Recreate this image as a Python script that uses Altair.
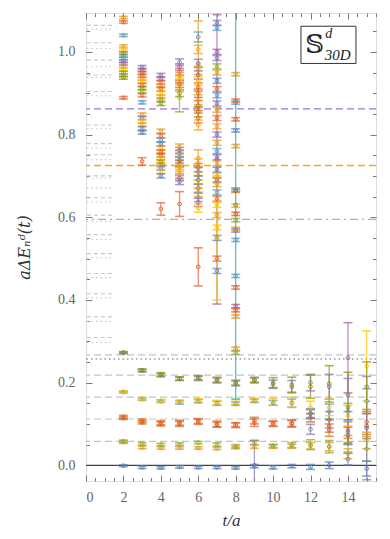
import altair as alt
import pandas as pd

PALETTE = ["#5E81B5", "#E19C24", "#8FB032", "#EB6235", "#8778B3", "#C56E1A",
           "#5D9EC7", "#FFBF00", "#A5609D", "#929600", "#E95536", "#6685D9",
           "#F89F13", "#BC5B80", "#47B66D", "#1FAA8C"]

# ---------------- low-lying levels (t = 2 .. 15) ----------------
T_LOW = [2, 3, 4, 5, 6, 7, 8, 9, 10, 11, 12, 13, 14, 15]
BLUE_V = [-0.001, -0.005, -0.006, -0.004, -0.005, -0.005, -0.006, -0.002, -0.005, -0.002, -0.004, 0.000, 0.015, -0.008]
BLUE_E = [0.002, 0.003, 0.003, 0.003, 0.003, 0.003, 0.003, 0.004, 0.004, 0.004, 0.006, 0.008, 0.014, 0.018]
GREEN_V = [0.058, 0.052, 0.050, 0.051, 0.055, 0.050, 0.046, 0.055, 0.047, 0.049, 0.050, 0.045, 0.052, 0.040]
GREEN_E = [0.003, 0.003, 0.003, 0.003, 0.003, 0.004, 0.004, 0.005, 0.004, 0.006, 0.012, 0.015, 0.020, 0.030]
ORANGE_V = [0.056, 0.043, 0.042, 0.042, 0.042, 0.041, 0.043, 0.045, 0.045, 0.046, 0.047, 0.045, 0.028, 0.060]
ORANGE_E = [0.003, 0.003, 0.003, 0.003, 0.003, 0.003, 0.003, 0.004, 0.004, 0.005, 0.008, 0.010, 0.012, 0.020]
RED_V = [0.117, 0.108, 0.103, 0.103, 0.105, 0.100, 0.097, 0.103, 0.100, 0.100, 0.125, 0.085, 0.085, 0.105]
RED_E = [0.004, 0.004, 0.005, 0.006, 0.006, 0.007, 0.006, 0.009, 0.006, 0.008, 0.010, 0.015, 0.020, 0.030]
BROWN_V = [0.114, 0.104, 0.100, 0.100, 0.107, 0.098, 0.098, 0.108, 0.101, 0.102, 0.115, 0.095, 0.072, 0.095]
BROWN_E = [0.003, 0.004, 0.005, 0.006, 0.006, 0.006, 0.005, 0.008, 0.006, 0.008, 0.010, 0.015, 0.020, 0.030]
YELLOW_V = [0.178, 0.161, 0.156, 0.154, 0.157, 0.152, 0.151, 0.158, 0.154, 0.153, 0.140, 0.140, 0.120, 0.240]
YELLOW_E = [0.002, 0.003, 0.003, 0.004, 0.004, 0.005, 0.004, 0.004, 0.008, 0.012, 0.015, 0.020, 0.025, 0.085]
CYAN_V = [0.177, 0.160, 0.155, 0.152, 0.155, 0.150, 0.149, 0.156, 0.151, 0.150, 0.125, 0.130, 0.130, 0.155]
CYAN_E = [0.002, 0.003, 0.003, 0.004, 0.004, 0.005, 0.004, 0.004, 0.006, 0.010, 0.012, 0.018, 0.020, 0.030]
OLIVE_V = [0.273, 0.230, 0.220, 0.210, 0.212, 0.207, 0.200, 0.205, 0.200, 0.195, 0.190, 0.197, 0.140, 0.190]
OLIVE_E = [0.002, 0.003, 0.004, 0.004, 0.005, 0.006, 0.006, 0.006, 0.012, 0.018, 0.028, 0.044, 0.085, 0.060]
PURPLE_V = [0.272, 0.229, 0.218, 0.209, 0.210, 0.205, 0.198, 0.207, 0.196, 0.190, 0.200, 0.190, 0.170, 0.090]
PURPLE_E = [0.002, 0.003, 0.004, 0.004, 0.005, 0.006, 0.006, 0.006, 0.010, 0.015, 0.020, 0.030, 0.040, 0.125]

EXTRA_T = [9, 12, 12, 13, 14, 14]
EXTRA_V = [0.000, 0.087, 0.125, 0.110, 0.260, 0.080]
EXTRA_E = [0.060, 0.012, 0.010, 0.020, 0.085, 0.030]
EXTRA_C = [4, 4, 11, 4, 8, 11]

# ---------------- excited levels, per time slice ----------------
U2_V = [1.083, 1.072, 1.040, 1.014, 1.004, 0.997, 0.990, 0.984, 0.978, 0.971, 0.964, 0.957, 0.950, 0.944, 0.937, 0.889]
U2_C = [1, 3, 6, 12, 7, 5, 14, 6, 4, 8, 1, 7, 9, 2, 9, 3]
U2_E = [0.003] * 16

U3_V = [0.963, 0.956, 0.949, 0.942, 0.935, 0.928, 0.920, 0.912, 0.905, 0.895, 0.878,
        0.848, 0.840, 0.832, 0.824, 0.815, 0.805, 0.735]
U3_C = [4, 8, 5, 3, 1, 7, 10, 9, 2, 3, 6, 1, 4, 7, 12, 4, 0, 3]
U3_E = [0.004] * 17 + [0.009]

U4_V = [0.943, 0.935, 0.926, 0.918, 0.910, 0.900, 0.891, 0.884, 0.875,
        0.808, 0.797, 0.787, 0.777, 0.767, 0.758, 0.750, 0.742, 0.734, 0.727, 0.719, 0.711, 0.700, 0.620]
U4_C = [4, 8, 3, 1, 10, 7, 12, 2, 9, 1, 3, 6, 0, 12, 10, 5, 7, 9, 1, 11, 7, 0, 3]
U4_E = [0.005] * 22 + [0.015]

U5_V = [0.975, 0.963, 0.952, 0.942, 0.932, 0.922, 0.912, 0.900, 0.890,
        0.770, 0.762, 0.754, 0.746, 0.738, 0.730, 0.722, 0.713, 0.704, 0.695, 0.686, 0.632]
U5_C = [4, 8, 3, 1, 7, 10, 12, 9, 2, 1, 3, 6, 12, 0, 5, 7, 1, 7, 8, 4, 3]
U5_E = [0.008] * 8 + [0.035] + [0.007] * 11 + [0.030]

U6_V = [1.036, 0.970, 1.006, 0.972, 0.955, 0.944, 0.930, 0.915, 0.900, 0.884, 0.870, 0.855, 0.840, 0.823,
        0.743, 0.731, 0.720, 0.710, 0.700, 0.690, 0.680, 0.670, 0.660, 0.648, 0.636, 0.622, 0.480]
U6_C = [6, 1, 12, 4, 1, 8, 7, 3, 5, 1, 10, 9, 3, 12, 1, 12, 3, 6, 1, 0, 7, 4, 12, 6, 8, 7, 3]
U6_E = [0.012, 0.105] + [0.010] * 7 + [0.012] * 5 + [0.020] + [0.010] * 11 + [0.046]

U7_V = [0.740, 1.070, 1.058, 1.000, 0.985, 0.965, 0.950, 0.930, 0.910, 0.895, 0.875, 0.860, 0.840, 0.820,
        0.800, 0.780, 0.760, 0.745, 0.730, 0.715, 0.700, 0.690, 0.680, 0.660, 0.645, 0.630, 0.605,
        0.575, 0.550, 0.500, 0.470, 0.550]
U7_C = [8, 4, 6, 8, 4, 2, 1, 0, 3, 6, 4, 1, 3, 12, 4, 1, 6, 4, 12, 0, 7, 8, 1, 6, 3, 7, 1, 7, 0, 3, 11, 7]
U7_E = [0.350] + [0.006] * 30 + [0.150]

U8_V = [0.630, 0.946, 0.882, 0.877, 0.837, 0.810, 0.772, 0.667, 0.664, 0.628, 0.608, 0.593, 0.572, 0.568,
        0.545, 0.458, 0.430, 0.385, 0.375, 0.360, 0.282, 0.272]
U8_C = [15, 1, 3, 6, 3, 11, 1, 6, 5, 12, 10, 2, 1, 4, 6, 6, 3, 8, 10, 1, 1, 2]
U8_E = [0.470] + [0.004] * 21

# ---------------- reference levels ----------------
REF_GRAY_DASHED = [0.058, 0.112, 0.165, 0.218, 0.267]
REF_DARK_DOTTED = [0.257]
REF_DASHDOT = [0.595]
REF_ORANGE = [0.725]
REF_PURPLE = [0.862]
REF_ZERO = [0.0]

SEG_DASHED = [1.064, 1.022, 0.980, 0.944, 0.904, 0.823, 0.778, 0.751, 0.700, 0.647, 0.605,
              0.558, 0.512, 0.464, 0.415, 0.359, 0.309]
SEG_DOTTED = [1.055, 1.008, 0.964, 0.938, 0.894, 0.814, 0.767, 0.739, 0.695, 0.671, 0.637,
              0.590, 0.546, 0.502, 0.454, 0.405, 0.348, 0.297]

X_MAJOR = [0, 2, 4, 6, 8, 10, 12, 14]
X_MINOR = [0.5 * i for i in range(0, 32)]
Y_MAJOR = [0.0, 0.2, 0.4, 0.6, 0.8, 1.0]
Y_MINOR = [0.0, 0.05, 0.1, 0.15, 0.2, 0.25, 0.3, 0.35, 0.4, 0.45, 0.5, 0.55, 0.6, 0.65,
           0.7, 0.75, 0.8, 0.85, 0.9, 0.95, 1.0, 1.05]

# ---------------- build tables ----------------
rows = []


def add(t, v, e, c):
    rows.append({"t": t, "v": v, "lo": v - e, "hi": v + e, "color": PALETTE[c]})


for vals, errs, c in [(BLUE_V, BLUE_E, 0), (ORANGE_V, ORANGE_E, 1), (GREEN_V, GREEN_E, 2),
                      (BROWN_V, BROWN_E, 5), (RED_V, RED_E, 3), (CYAN_V, CYAN_E, 6),
                      (YELLOW_V, YELLOW_E, 7), (PURPLE_V, PURPLE_E, 4), (OLIVE_V, OLIVE_E, 9)]:
    for t, v, e in zip(T_LOW, vals, errs):
        add(t, v, e, c)
for t, v, e, c in zip(EXTRA_T, EXTRA_V, EXTRA_E, EXTRA_C):
    add(t, v, e, c)
for t, V, E, C in [(2, U2_V, U2_E, U2_C), (3, U3_V, U3_E, U3_C), (4, U4_V, U4_E, U4_C),
                   (5, U5_V, U5_E, U5_C), (6, U6_V, U6_E, U6_C), (7, U7_V, U7_E, U7_C),
                   (8, U8_V, U8_E, U8_C)]:
    for v, e, c in zip(V, E, C):
        add(t, v, e, c)
df = pd.DataFrame(rows)

SEG_X0, SEG_X1 = 0.05, 1.45
seg_dash = pd.DataFrame({"v": SEG_DASHED, "x0": SEG_X0, "x1": SEG_X1})
seg_dot = pd.DataFrame({"v": SEG_DOTTED, "x0": SEG_X0, "x1": SEG_X1})

W, H = 290, 468
xs = alt.Scale(domain=[0, 15.5], nice=False, zero=False)
ys = alt.Scale(domain=[-0.038, 1.094], nice=False, zero=False)
TICKC = "#7a7a7a"
SERIF = "Liberation Serif"


def tick_axis(orient, offset, values, size):
    return alt.Axis(orient=orient, offset=offset, values=values, tickSize=size, labels=False, ticks=True,
                    domain=False, grid=False, title=None, tickColor=TICKC, tickWidth=1, tickOpacity=1)


main_y = alt.Axis(orient="left", values=Y_MAJOR, format=".1f", ticks=False, domain=False, grid=False,
                  labelFont=SERIF, labelFontSize=14, labelColor="#666666", labelPadding=11,
                  title="aΔEₙᵈ(t)", titleFont="DejaVu Serif", titleFontStyle="italic",
                  titleFontWeight="normal", titleFontSize=16, titleColor="#333333",
                  titleAngle=270, titleX=-62, titleY=H / 2, titleAlign="center", titleBaseline="middle")
main_x = alt.Axis(orient="bottom", values=X_MAJOR, format="d", ticks=False, domain=False, grid=False,
                  labelFont=SERIF, labelFontSize=14, labelColor="#666666", labelPadding=9,
                  title="t/a", titleFont=SERIF, titleFontStyle="italic", titleFontWeight="normal",
                  titleFontSize=17, titleColor="#333333", titleY=39, titleBaseline="middle")


def ref_layer(vals, color, dash, width=1.2):
    d = pd.DataFrame({"v": vals})
    kw = {"color": color, "strokeWidth": width}
    if dash:
        kw["strokeDash"] = dash
    return alt.Chart(d).mark_rule(**kw).encode(y=alt.Y("v:Q", scale=ys, axis=None))


refs = [
    ref_layer(REF_GRAY_DASHED, "#c4c4c4", [7, 4]),
    ref_layer(REF_DARK_DOTTED, "#666666", [1.5, 3], 1.1),
    ref_layer(REF_DASHDOT, "#b0b0b0", [8, 4, 2, 4]),
    ref_layer(REF_ORANGE, "#F5A623", [7, 4], 1.4),
    ref_layer(REF_PURPLE, "#9B74E6", [7, 4], 1.3),
]
ref_main = alt.Chart(pd.DataFrame({"v": REF_ZERO})).mark_rule(color="#444444", strokeWidth=1.3).encode(
    y=alt.Y("v:Q", scale=ys, axis=main_y))

seg1 = alt.Chart(seg_dash).mark_rule(color="#c8c8c8", strokeDash=[4, 3], strokeWidth=1.1).encode(
    x=alt.X("x0:Q", scale=xs, axis=tick_axis("bottom", -H, X_MAJOR, 6)),
    x2="x1:Q", y=alt.Y("v:Q", scale=ys, axis=tick_axis("right", -W, Y_MAJOR, 6)))
seg2 = alt.Chart(seg_dot).mark_rule(color="#c8c8c8", strokeDash=[1.5, 3], strokeWidth=1.1).encode(
    x=alt.X("x0:Q", scale=xs, axis=None), x2="x1:Q", y=alt.Y("v:Q", scale=ys, axis=None))

base = alt.Chart(df)
col = alt.Color("color:N", scale=None)
err = base.mark_rule(strokeWidth=1.3, opacity=0.72, clip=True).encode(
    x=alt.X("t:Q", scale=xs, axis=main_x),
    y=alt.Y("lo:Q", scale=ys, axis=tick_axis("right", -W, Y_MINOR, 3.5)), y2="hi:Q", color=col)
cap_lo = base.mark_tick(orient="horizontal", size=9, thickness=1.6, opacity=0.72, clip=True).encode(
    x=alt.X("t:Q", scale=xs, axis=tick_axis("top", -H, X_MINOR, 3.5)),
    y=alt.Y("lo:Q", scale=ys, axis=tick_axis("left", -W, Y_MINOR, 3.5)), color=col)
cap_hi = base.mark_tick(orient="horizontal", size=9, thickness=1.6, opacity=0.72, clip=True).encode(
    x=alt.X("t:Q", scale=xs, axis=tick_axis("bottom", -H, X_MINOR, 3.5)),
    y=alt.Y("hi:Q", scale=ys, axis=tick_axis("left", -W, Y_MAJOR, 6)), color=col)
pts = base.mark_point(filled=False, size=14, strokeWidth=1, opacity=0.9, clip=True).encode(
    x=alt.X("t:Q", scale=xs, axis=tick_axis("top", -H, X_MAJOR, 6)),
    y=alt.Y("v:Q", scale=ys, axis=None), stroke=col)

# label box
LBL_X0, LBL_X1, LBL_Y0, LBL_Y1 = 11.49, 14.43, 0.972, 1.062
box = alt.Chart(pd.DataFrame({"a": [0]})).mark_rect(fill="white", stroke="#333333", strokeWidth=1).encode(
    x=alt.XDatum(LBL_X0, scale=xs, axis=None), x2=alt.X2Datum(LBL_X1),
    y=alt.YDatum(LBL_Y0, scale=ys, axis=None), y2=alt.Y2Datum(LBL_Y1))
txt_s = alt.Chart(pd.DataFrame({"a": [0]})).mark_text(
    text="𝕊", font="DejaVu Serif, DejaVu Sans", fontSize=26, color="#222222", baseline="middle").encode(
    x=alt.XDatum(12.22, scale=xs, axis=None), y=alt.YDatum(1.016, scale=ys, axis=None))
txt_d = alt.Chart(pd.DataFrame({"a": [0]})).mark_text(
    text="d", font=SERIF, fontSize=14, fontStyle="italic", color="#222222", baseline="middle").encode(
    x=alt.XDatum(12.97, scale=xs, axis=None), y=alt.YDatum(1.043, scale=ys, axis=None))
txt_sub = alt.Chart(pd.DataFrame({"a": [0]})).mark_text(
    text="30D", font=SERIF, fontSize=15, fontStyle="italic", color="#222222", baseline="middle").encode(
    x=alt.XDatum(13.45, scale=xs, axis=None), y=alt.YDatum(0.993, scale=ys, axis=None))

chart = alt.layer(ref_main, *refs, seg1, seg2, err, cap_lo, cap_hi, pts, box, txt_s, txt_d, txt_sub).resolve_axis(
    x="independent", y="independent").resolve_scale(x="shared", y="shared").properties(
    width=W, height=H, autosize=alt.AutoSizeParams(type="none"),
    padding={"left": 78, "top": 5, "right": 6, "bottom": 50}
).configure_view(stroke="#8f8f8f", strokeWidth=1).configure(background="white")

chart.save("out.html", embed_options={"renderer": "svg", "actions": False})
